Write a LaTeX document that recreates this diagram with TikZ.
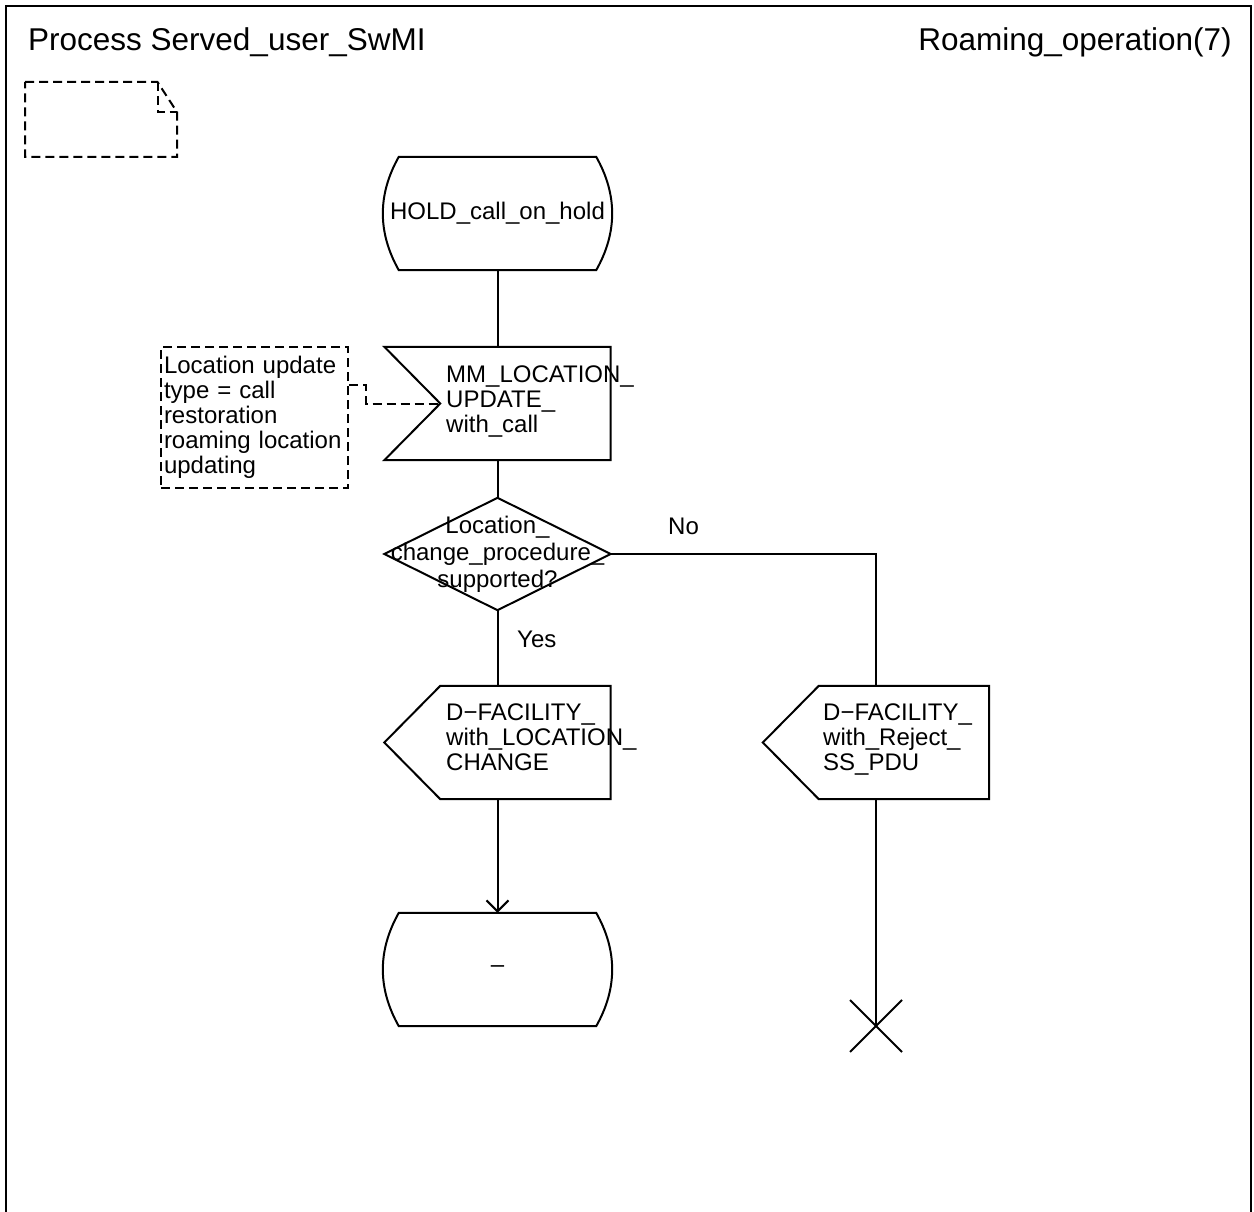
\documentclass[tikz,border=0pt]{standalone}
\usepackage{fontspec}
\setmainfont{Liberation Sans}
\usetikzlibrary{calc,arrows.meta}
\begin{document}
\begin{tikzpicture}[x=1pt,y=-1pt,
  solidline/.style={line width=2pt, line join=miter},
  dashline/.style={line width=2pt, dash pattern=on 9pt off 5pt},
  body/.style={font=\fontsize{24}{25}\selectfont},
  titletext/.style={font=\fontsize{31.5}{36}\selectfont, inner sep=0},
  symbox/.style 2 args={inner sep=0, minimum width=#1, minimum height=#2},
  textblock/.style={body, anchor=north west, align=left, inner sep=0},
  branchlabel/.style={body, anchor=base west, inner sep=0}
]
\fill[white] (0,0) rectangle (1254,1212);
\useasboundingbox (0,0) rectangle (1254,1212);

% page frame and headings
\draw[solidline] (6,1212) -- (6,6) -- (1251,6) -- (1251,1212);
\node[titletext, anchor=base west] (ptitle) at (28,51) {Process Served\_user\_SwMI};
\node[titletext, anchor=base east] (ptag) at (1232,51) {Roaming\_operation(7)};

% text symbol (folded sheet)
\draw[dashline] (25,82) -- (157.5,82) -- (177,112) -- (177,157) -- (25,157) -- cycle;
\draw[dashline] (157.5,82) -- (157.5,112) -- (177,112);

% symbols
\node[symbox={229}{113}, body] (hold) at (497.5,213.5) {HOLD\_call\_on\_hold};
\node[symbox={226}{113}] (mm) at (497.5,403.5) {};
\node[symbox={226}{112}, font=\fontsize{24}{27}\selectfont, align=center] (dec) at (497.5,554)
  {Location\_\\change\_procedure\_\\supported?};
\node[symbox={226}{113}] (out1) at (497.5,742.5) {};
\node[symbox={226}{113}] (rej) at (876,742.5) {};
\node[symbox={229}{113}, body] (endst) at (497.5,969.5) {–};
\coordinate (stop) at (876,1026);

% texts of input and outputs
\node[textblock] (mmtext) at (446,366) {MM\_LOCATION\_\\UPDATE\_\\with\_call};
\node[textblock] (out1text) at (446,704) {D−FACILITY\_\\with\_LOCATION\_\\CHANGE};
\node[textblock] (rejtext) at (823,704) {D−FACILITY\_\\with\_Reject\_\\SS\_PDU};

% comment
\node[dashline, draw, body, inner xsep=3pt, inner ysep=0, text width=181pt,
      align=left, minimum height=141pt, anchor=north west] (cmt) at (160,346)
      {Location update\\type = call\\restoration\\roaming location\\updating};

% state outlines
\foreach \s in {hold,endst} {
  \draw[solidline] ($(\s.north west)+(16,0)$) -- ($(\s.north east)+(-16,0)$)
    .. controls ($(\s.north east)+(5.3,37.7)$) and ($(\s.south east)+(5.3,-37.7)$) .. ($(\s.south east)+(-16,0)$)
    -- ($(\s.south west)+(16,0)$)
    .. controls ($(\s.south west)+(-5.3,-37.7)$) and ($(\s.north west)+(-5.3,37.7)$) .. cycle;
}

% input outline
\draw[solidline] (mm.north west) -- (mm.north east) -- (mm.south east) -- (mm.south west)
  -- ($(mm.west)+(56,0)$) coordinate (mmin) -- cycle;

% decision outline
\draw[solidline] (dec.north) -- (dec.east) -- (dec.south) -- (dec.west) -- cycle;

% output outlines
\foreach \s in {out1,rej} {
  \draw[solidline] (\s.west) -- ($(\s.north west)+(56,0)$) -- (\s.north east)
    -- (\s.south east) -- ($(\s.south west)+(56,0)$) -- cycle;
}

% branch labels
\node[branchlabel] (nolbl) at (668,534) {No};
\node[branchlabel] (yeslbl) at (517,647) {Yes};

% flow lines
\draw[solidline] (hold.south) -- (mm.north);
\draw[solidline] (mm.south) -- (dec.north);
\draw[solidline] (dec.south) -- (out1.north);
\draw[solidline] (dec.east) -| (rej.north);
\draw[solidline, -{Straight Barb[length=11pt,width=22pt]}] (out1.south) -- (endst.north);
\draw[solidline] (rej.south) -- (stop);
\draw[solidline] ($(stop)+(-26,-26)$) -- ($(stop)+(26,26)$);
\draw[solidline] ($(stop)+(26,-26)$) -- ($(stop)+(-26,26)$);

% comment connector
\draw[dashline] ($(cmt.north east)+(0,39)$) -- ++(17,0) |- (mmin);
\end{tikzpicture}
\end{document}
